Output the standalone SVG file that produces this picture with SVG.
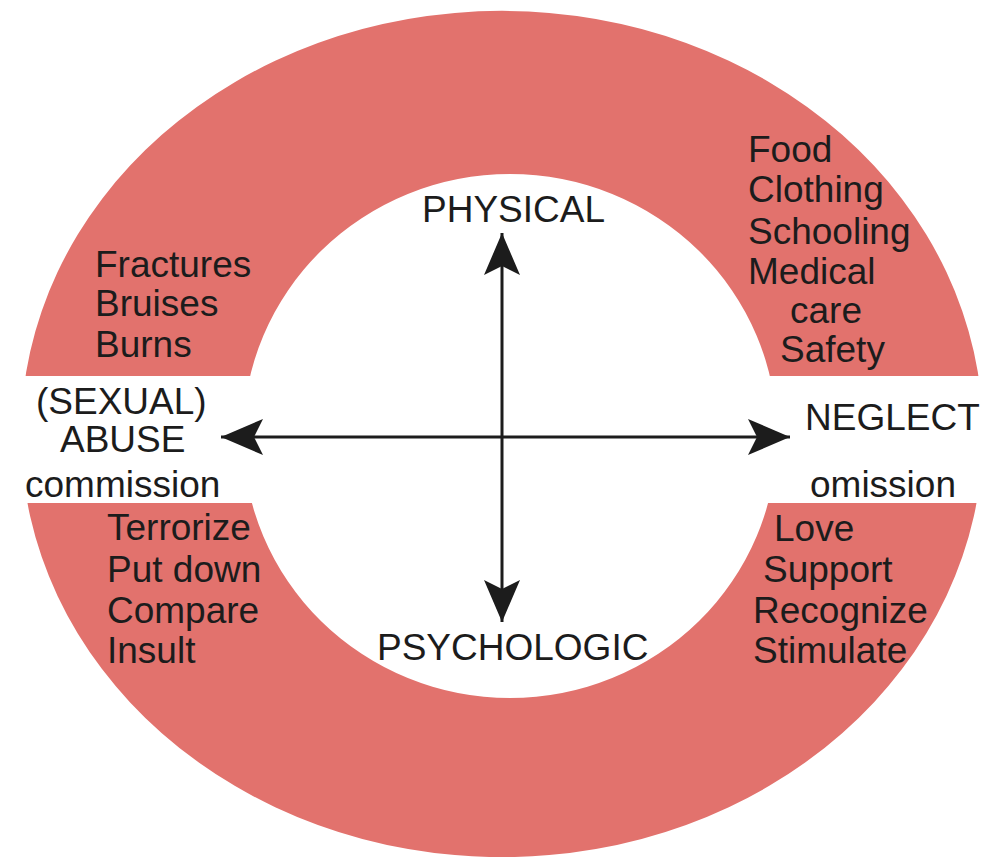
<svg xmlns="http://www.w3.org/2000/svg" width="984" height="857" viewBox="0 0 984 857">
<defs>
<style>
.t{font-family:"Liberation Sans",Arial,sans-serif;font-size:37px;fill:#1c1c1c}
.ax{stroke:#1c1c1c;stroke-width:3;fill:none}
</style>
<marker id="ah" viewBox="0 0 42 36" refX="42" refY="18" markerWidth="42" markerHeight="36" markerUnits="userSpaceOnUse" orient="auto-start-reverse">
<path d="M0,0 L42,18 L0,36 L9,18 Z" fill="#1c1c1c"/>
</marker>
</defs>
<rect width="984" height="857" fill="#ffffff"/>
<g id="ring">
<path fill="#e2726d" fill-rule="evenodd" d="M21,434 A481,423 0 1,0 983,434 A481,423 0 1,0 21,434 Z M243,436 A267,262 0 1,0 777,436 A267,262 0 1,0 243,436 Z"/>
<rect x="0" y="376" width="984" height="127" fill="#ffffff"/>
</g>
<g id="connectors">
<line class="ax" x1="221" y1="437" x2="790" y2="437" marker-start="url(#ah)" marker-end="url(#ah)"/>
<line class="ax" x1="502" y1="233" x2="502" y2="622" marker-start="url(#ah)" marker-end="url(#ah)"/>
</g>
<g id="physical"><text class="t" x="422" y="222">PHYSICAL</text></g>
<g id="psychologic"><text class="t" x="377" y="660">PSYCHOLOGIC</text></g>
<g id="abuse">
<text class="t" x="36" y="414">(SEXUAL)</text>
<text class="t" x="60" y="452">ABUSE</text>
<text class="t" x="25" y="497">commission</text>
</g>
<g id="neglect">
<text class="t" x="805" y="430">NEGLECT</text>
<text class="t" x="810" y="497">omission</text>
</g>
<g id="physical-abuse">
<text class="t" x="95" y="277">Fractures</text>
<text class="t" x="95" y="316">Bruises</text>
<text class="t" x="95" y="357">Burns</text>
</g>
<g id="physical-neglect">
<text class="t" x="748" y="162">Food</text>
<text class="t" x="748" y="202">Clothing</text>
<text class="t" x="748" y="244">Schooling</text>
<text class="t" x="748" y="284">Medical</text>
<text class="t" x="790" y="323">care</text>
<text class="t" x="780" y="362">Safety</text>
</g>
<g id="psychologic-abuse">
<text class="t" x="107" y="540">Terrorize</text>
<text class="t" x="107" y="582">Put down</text>
<text class="t" x="107" y="623">Compare</text>
<text class="t" x="107" y="663">Insult</text>
</g>
<g id="psychologic-neglect">
<text class="t" x="774" y="541">Love</text>
<text class="t" x="763" y="582">Support</text>
<text class="t" x="753" y="623">Recognize</text>
<text class="t" x="753" y="663">Stimulate</text>
</g>
</svg>
